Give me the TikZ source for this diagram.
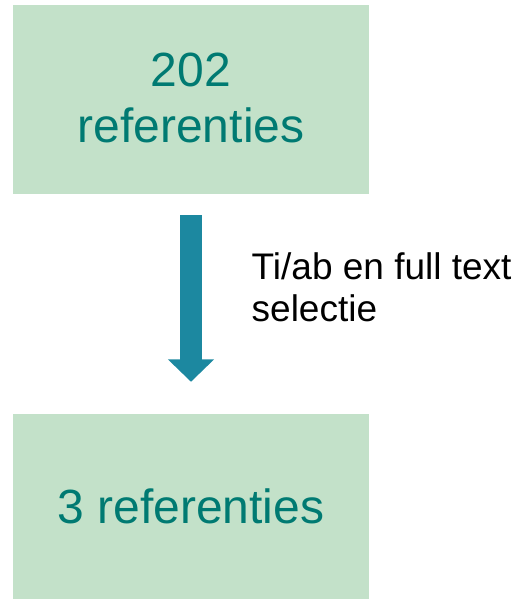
\documentclass[tikz,border=0pt]{standalone}
\usepackage{fontspec}
\setmainfont{Liberation Sans}
\usetikzlibrary{arrows.meta}
\definecolor{boxfill}{HTML}{C3E1C9}
\definecolor{boxtext}{HTML}{007A72}
\definecolor{arrowblue}{HTML}{1C88A0}
\begin{document}
\begin{tikzpicture}[x=1pt,y=1pt,
  countbox/.style={fill=boxfill, draw=none, minimum width=356pt, inner sep=0pt,
    align=center, text=boxtext, font=\fontsize{48}{56}\selectfont},
  flowarrow/.style={draw=arrowblue, line width=22.7pt,
    -{Triangle[width=45pt, length=22.5pt, fill=arrowblue]}},
  steplabel/.style={anchor=base west, align=left, inner sep=0pt,
    font=\fontsize{37}{42.4}\selectfont}]
  \useasboundingbox (0,0) rectangle (523,600);
  % the two counts
  \node[countbox, minimum height=189pt] (top) at (191,500.5)
    {202\\referenties\rule[-4pt]{0pt}{0pt}};
  \node[countbox, minimum height=185pt] (bot) at (191,93.5) {3 referenties};
  % selection step
  \draw[flowarrow] ([yshift=-21pt]top.south) -- ([yshift=32pt]bot.north);
  \node[steplabel] (lbl) at (251.5,278.3) {Ti/ab en full text\\selectie};
\end{tikzpicture}
\end{document}
